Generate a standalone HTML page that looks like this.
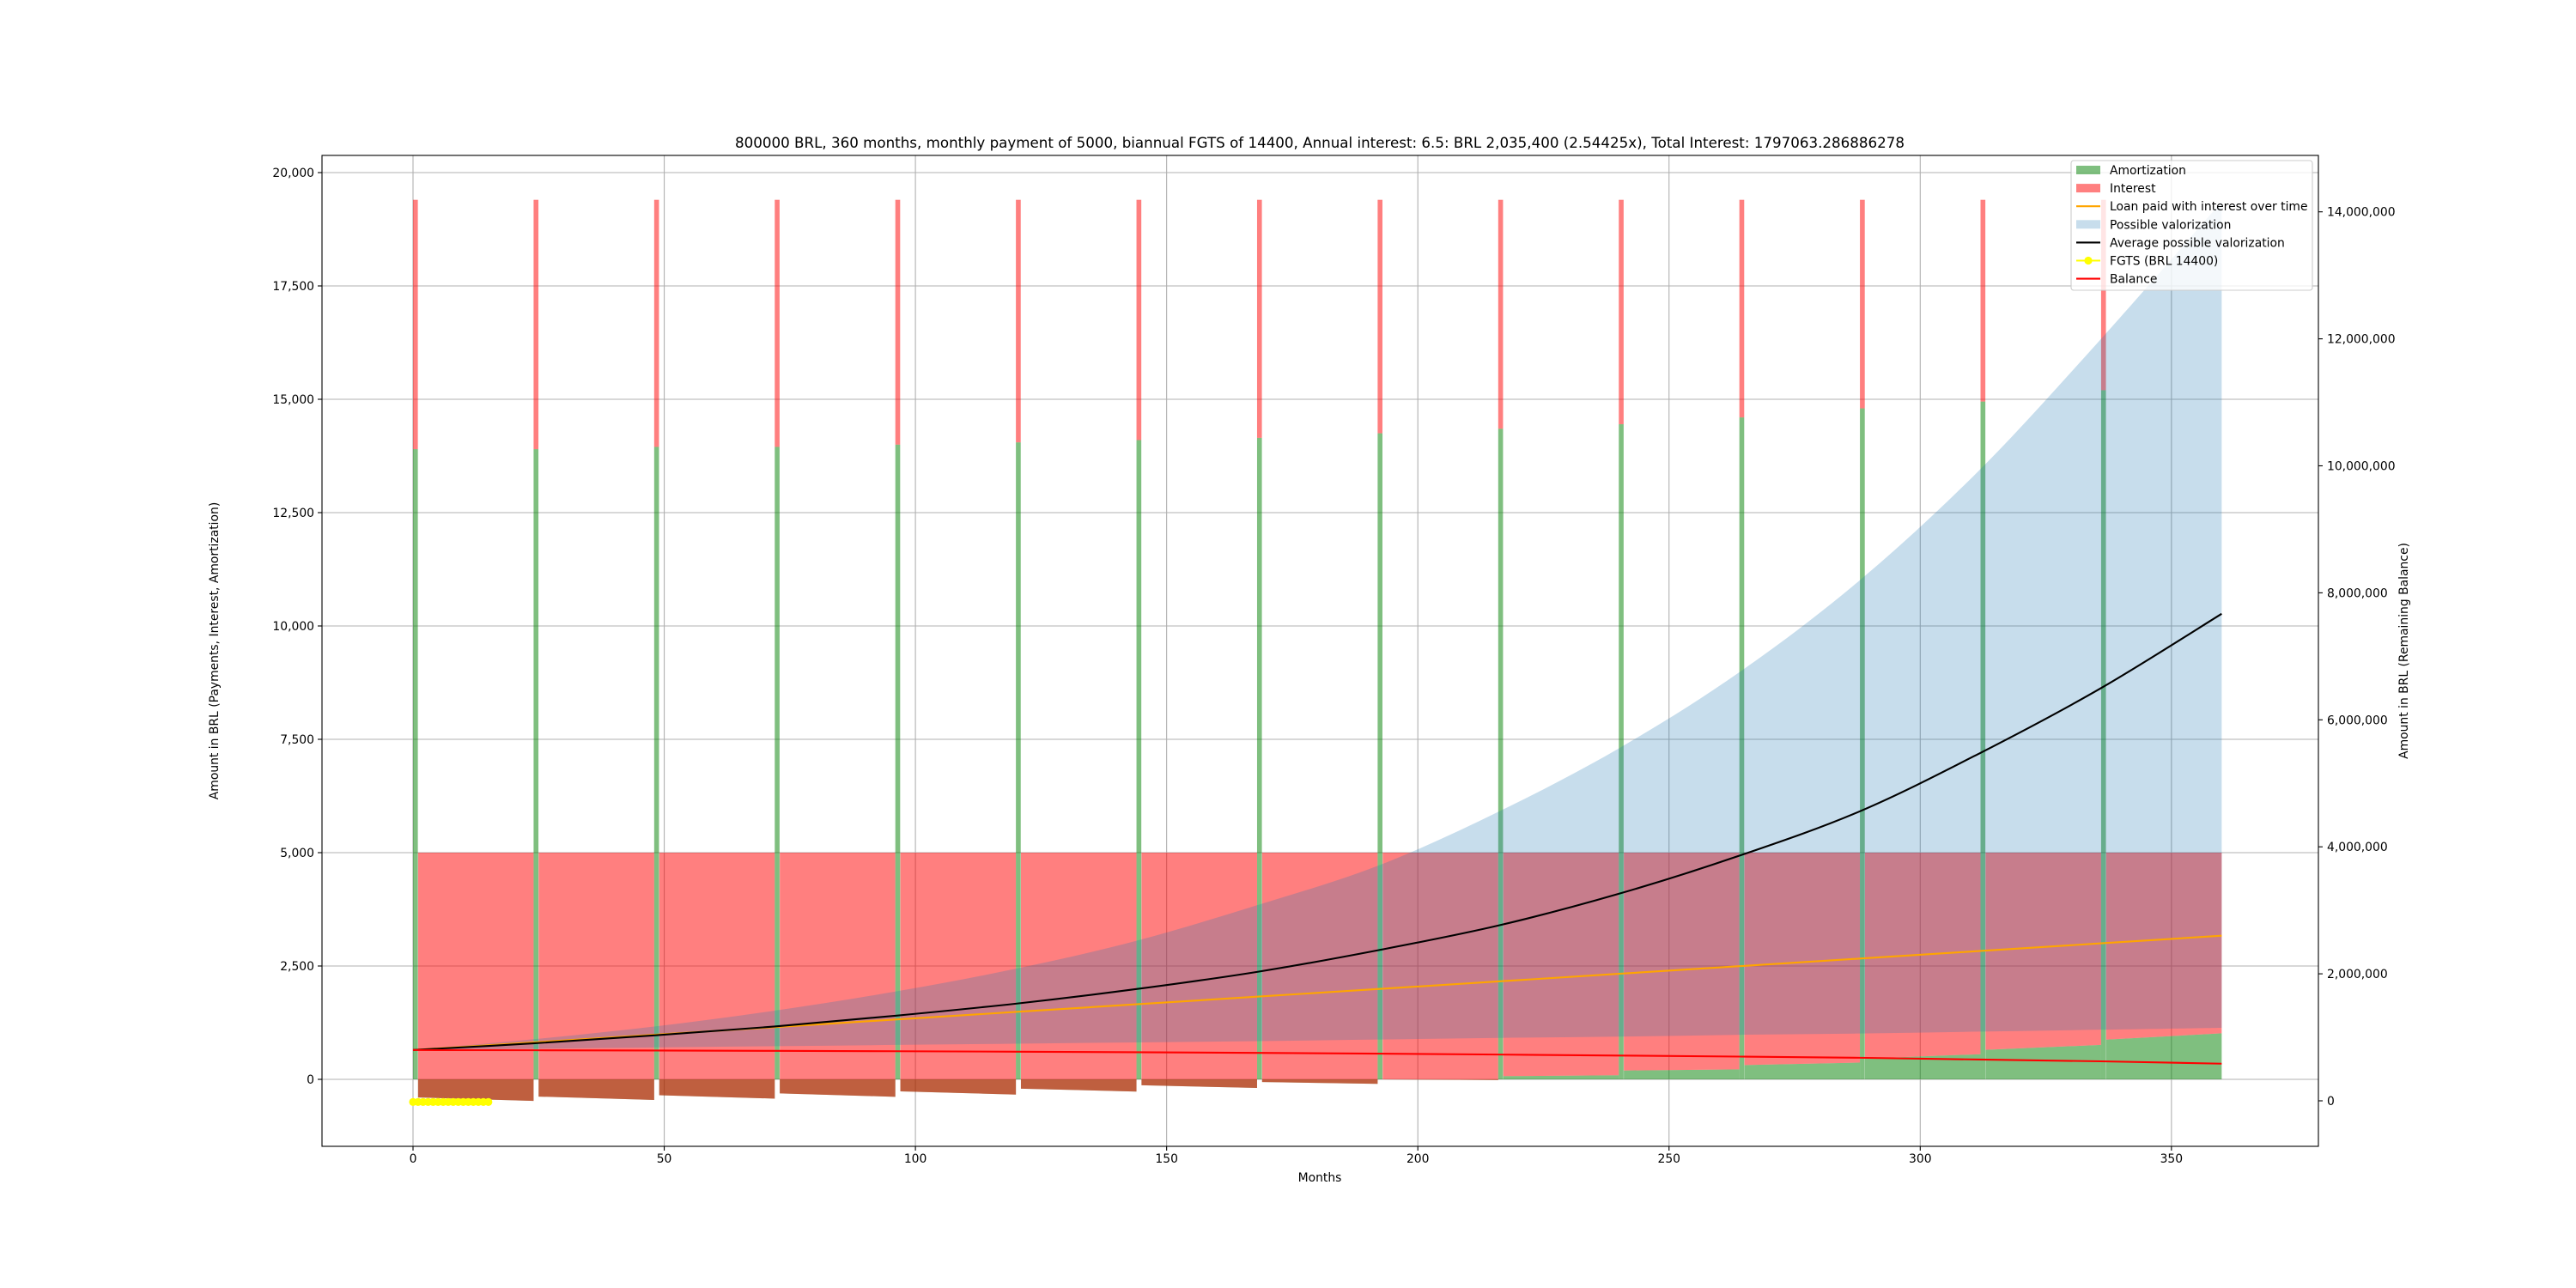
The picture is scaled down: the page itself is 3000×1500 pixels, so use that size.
<!DOCTYPE html>
<html><head><meta charset="utf-8"><style>
html,body{margin:0;padding:0;background:#fff;}
svg{display:block;font-family:"DejaVu Sans","Liberation Sans",sans-serif;}
</style></head><body>
<svg id="chart" width="3000" height="1500" viewBox="0 0 3000 1500" xmlns="http://www.w3.org/2000/svg">
<rect width="3000" height="1500" fill="#fff"/>
<g id="grid"></g>
<g id="left"></g>
<g id="right"></g>
<g id="axes"></g>
<text x="1537" y="172" text-anchor="middle" font-size="16.7">800000 BRL, 360 months, monthly payment of 5000, biannual FGTS of 14400, Annual interest: 6.5: BRL 2,035,400 (2.54425x), Total Interest: 1797063.286886278</text>
<text x="1537" y="1376" text-anchor="middle" font-size="13.9">Months</text>
<text transform="translate(254,758) rotate(-90)" text-anchor="middle" font-size="13.9">Amount in BRL (Payments, Interest, Amortization)</text>
<text transform="translate(2804,758) rotate(-90)" text-anchor="middle" font-size="13.9">Amount in BRL (Remaining Balance)</text>
<g id="legend"></g>
</svg>
<script>
// ---- data ----
const payment = 5000;
const fgtsAmount = 14400;
const fgtsMonths = [0,24,48,72,96,120,144,168,192,216,240,264,288,312,336];
const spikeAmort = [13900,13900,13950,13950,14000,14050,14100,14150,14250,14350,14450,14600,14800,14950,15200];
const segStartAmort = [-400,-380,-350,-310,-265,-205,-130,-60,0,70,195,315,460,650,875];
const segEndAmort = [-475,-455,-425,-385,-335,-270,-190,-100,-15,90,220,370,555,760,1015];
const curveMonths = [0,24,48,72,96,120,144,168,192,216,240,264,288,312,336,360];
const valorUpper = [800000,970000,1170000,1420000,1720000,2080000,2520000,3080000,3700000,4550000,5550000,6750000,8200000,9950000,12000000,14160000];
const valorLower = [800000,820000,840000,860000,880000,900000,920000,940000,965000,990000,1010000,1040000,1060000,1090000,1120000,1150000];
const valorAverage = [800000,905000,1030000,1170000,1340000,1530000,1760000,2030000,2370000,2760000,3260000,3860000,4560000,5480000,6500000,7670000];
const loanPaid = [800000,920000,1040000,1160000,1280000,1400000,1520000,1640000,1760000,1880000,2000000,2120000,2240000,2360000,2480000,2600000];
const balance = [800000,796200,791900,786900,780900,773800,765300,754900,742500,728400,713100,696300,677700,650000,622000,585000];
const fgtsMarkerMonths = [0,1,2,3,4,5,6,7,8,9,10,11,12,13,14,15];
const fgtsMarkerValue = -500;
const xTicks = [0,50,100,150,200,250,300,350];
const yTicksLeft = [0,2500,5000,7500,10000,12500,15000,17500,20000];
const yTicksRight = [0,2000000,4000000,6000000,8000000,10000000,12000000,14000000];
const lastMonth = 360;

// ---- axes ----
const PL=375, PR=2700, PT=181, PB=1335;
const xs = m => 481 + 5.851*m;
const yl = v => 1257 - v*0.0528;
const yr = v => 1282 - v*147.9/2000000;
const NS='http://www.w3.org/2000/svg';
function mk(tag, attrs, parent){const e=document.createElementNS(NS,tag);for(const k in attrs)e.setAttribute(k,attrs[k]);parent.appendChild(e);return e;}
const fmt = v => v.toLocaleString('en-US');
const G=document.getElementById('grid'), L=document.getElementById('left'), R=document.getElementById('right'), A=document.getElementById('axes'), LG=document.getElementById('legend');

// grid
xTicks.forEach(t=>{const e=mk('line',{x1:xs(t),x2:xs(t),y1:PT,y2:PB,stroke:'#b0b0b0','stroke-width':1.1},G);

});
yTicksLeft.forEach(t=>{const e=mk('line',{x1:PL,x2:PR,y1:yl(t),y2:yl(t),stroke:'#b0b0b0','stroke-width':1.1},G);

});

// segments (amortization + interest)
const GREEN='rgba(0,128,0,0.5)', RED='rgba(255,0,0,0.5)';
fgtsMonths.forEach((m,k)=>{
  const x0=xs(m+1), x1=xs(k<fgtsMonths.length-1?fgtsMonths[k+1]:lastMonth);
  const a0=segStartAmort[k], a1=segEndAmort[k];
  const g=mk('polygon',{points:`${x0},${yl(0)} ${x1},${yl(0)} ${x1},${yl(a1)} ${x0},${yl(a0)}`,fill:GREEN},L);
  
  
  const r=mk('polygon',{points:`${x0},${yl(a0)} ${x1},${yl(a1)} ${x1},${yl(payment)} ${x0},${yl(payment)}`,fill:RED},L);
  
  
});
// FGTS spikes
fgtsMonths.forEach((m,k)=>{
  const x0=xs(m), w=xs(m+0.96)-xs(m);
  const g=mk('rect',{x:x0,y:yl(spikeAmort[k]),width:w,height:yl(0)-yl(spikeAmort[k]),fill:GREEN},L);
  
  
  const tot=payment+fgtsAmount;
  const r=mk('rect',{x:x0,y:yl(tot),width:w,height:yl(spikeAmort[k])-yl(tot),fill:RED},L);
  
  
});
// FGTS markers
(function(){
  const pts=fgtsMarkerMonths.map(m=>`${xs(m)},${yl(fgtsMarkerValue)}`).join(' ');
  const l=mk('polyline',{points:pts,fill:'none',stroke:'#ffff00','stroke-width':3},L);
  
  
  fgtsMarkerMonths.forEach(m=>{const c=mk('circle',{cx:xs(m),cy:yl(fgtsMarkerValue),r:4.6,fill:'#ffff00'},L);
  
  });
})();

// smooth path helper (Catmull-Rom)
function smooth(px){let d=`M${px[0][0]},${px[0][1]}`;for(let i=0;i<px.length-1;i++){const p0=px[Math.max(0,i-1)],p1=px[i],p2=px[i+1],p3=px[Math.min(px.length-1,i+2)];
d+=` C${p1[0]+(p2[0]-p0[0])/6},${p1[1]+(p2[1]-p0[1])/6} ${p2[0]-(p3[0]-p1[0])/6},${p2[1]-(p3[1]-p1[1])/6} ${p2[0]},${p2[1]}`;}return d;}
const up=curveMonths.map((m,i)=>[xs(m),yr(valorUpper[i])]);
const lo=curveMonths.map((m,i)=>[xs(m),yr(valorLower[i])]).reverse();
const band=mk('path',{d:smooth(up)+' L'+smooth(lo).slice(1)+' Z',fill:'rgba(31,119,180,0.25)'},R);


const orange=mk('polyline',{points:curveMonths.map((m,i)=>`${xs(m)},${yr(loanPaid[i])}`).join(' '),fill:'none',stroke:'#ffa500','stroke-width':2.1},R);


const black=mk('path',{d:smooth(curveMonths.map((m,i)=>[xs(m),yr(valorAverage[i])])),fill:'none',stroke:'#000','stroke-width':2.1},R);


const bal=mk('polyline',{points:curveMonths.map((m,i)=>`${xs(m)},${yr(balance[i])}`).join(' '),fill:'none',stroke:'#ff0000','stroke-width':2.1},R);



// spines & ticks
const sp=mk('rect',{x:PL,y:PT,width:PR-PL,height:PB-PT,fill:'none',stroke:'#000','stroke-width':1.1},A);


xTicks.forEach(t=>{mk('line',{x1:xs(t),x2:xs(t),y1:PB,y2:PB+5,stroke:'#000','stroke-width':1.1},A);
const e=mk('text',{x:xs(t),y:1354,'text-anchor':'middle','font-size':13.9},A);e.textContent=t;

});
yTicksLeft.forEach(t=>{mk('line',{x1:PL-5,x2:PL,y1:yl(t),y2:yl(t),stroke:'#000','stroke-width':1.1},A);
const e=mk('text',{x:366,y:yl(t)+5,'text-anchor':'end','font-size':13.9},A);e.textContent=fmt(t);

});
yTicksRight.forEach(t=>{mk('line',{x1:PR,x2:PR+5,y1:yr(t),y2:yr(t),stroke:'#000','stroke-width':1.1},A);
const e=mk('text',{x:2710,y:yr(t)+5,'text-anchor':'start','font-size':13.9},A);e.textContent=fmt(t);

});

// legend
const lb=mk('rect',{x:2412,y:187,width:281,height:151,rx:3,fill:'rgba(255,255,255,0.8)',stroke:'#cccccc','stroke-width':1.1},LG);


const entries=[['Amortization','patch','rgba(0,128,0,0.5)'],['Interest','patch','rgba(255,0,0,0.5)'],['Loan paid with interest over time','line','#ffa500'],['Possible valorization','patch','rgba(31,119,180,0.25)'],['Average possible valorization','line','#000'],['FGTS (BRL 14400)','marker','#ffff00'],['Balance','line','#ff0000']];
entries.forEach((en,i)=>{const cy=198+i*21.1;
 const g=mk('g',{},LG);
 
 
 if(en[1]==='patch')mk('rect',{x:2418,y:cy-5,width:28,height:10,fill:en[2]},g);
 else {mk('line',{x1:2418,x2:2446,y1:cy,y2:cy,stroke:en[2],'stroke-width':2.1},g);
   if(en[1]==='marker')mk('circle',{cx:2432,cy:cy,r:4.6,fill:en[2]},g);}
 const t=mk('text',{x:2457,y:cy+5,'font-size':13.9},g);t.textContent=en[0];});
</script>
</body></html>
